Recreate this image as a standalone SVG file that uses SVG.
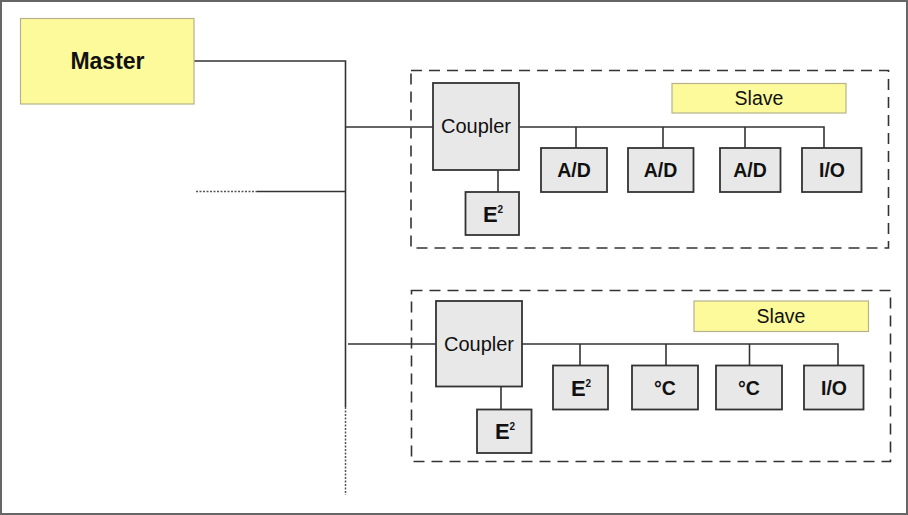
<svg xmlns="http://www.w3.org/2000/svg" width="908" height="515" viewBox="0 0 908 515">
<style>
.ln{stroke:#333;stroke-width:1.6;fill:none}
.dot{stroke:#555;stroke-width:1.5;fill:none;stroke-dasharray:2 1.5}
.dash{stroke:#333;stroke-width:1.6;fill:none;stroke-dasharray:11 7}
.box{fill:#e8e8e8;stroke:#333;stroke-width:1.8}
.yel{fill:#fdfa9c;stroke:#b5b28a;stroke-width:1.2}
.t{font-family:"Liberation Sans",Arial,sans-serif;fill:#111;text-anchor:middle}
.b{font-weight:bold;font-size:19.5px}
.c{font-size:20px}
.s{font-size:19.5px}
.e{font-weight:bold;font-size:22px}
.sup{font-size:10px}
</style>
<rect x="1" y="1" width="906" height="513" fill="#fff" stroke="#666" stroke-width="2"/>
<g id="connectors">
<polyline class="ln" points="194,61 345.5,61 345.5,407"/>
<line class="dot" x1="345.5" y1="407" x2="345.5" y2="495"/>
<line class="ln" x1="345.5" y1="127" x2="433" y2="127"/>
<line class="ln" x1="257" y1="191.5" x2="345.5" y2="191.5"/>
<line class="dot" x1="196" y1="191.5" x2="257" y2="191.5"/>
<line class="ln" x1="348" y1="344" x2="436" y2="344"/>
<polyline class="ln" points="519,127 824,127 824,148"/>
<line class="ln" x1="576" y1="127" x2="576" y2="148"/>
<line class="ln" x1="663" y1="127" x2="663" y2="148"/>
<line class="ln" x1="745" y1="127" x2="745" y2="148"/>
<line class="ln" x1="498" y1="170" x2="498" y2="192"/>
<polyline class="ln" points="522,344 838,344 838,366"/>
<line class="ln" x1="580" y1="344" x2="580" y2="366"/>
<line class="ln" x1="666" y1="344" x2="666" y2="366"/>
<line class="ln" x1="749.5" y1="344" x2="749.5" y2="366"/>
<line class="ln" x1="501" y1="386" x2="501" y2="409"/>
</g>
<g id="master"><rect class="yel" x="20.5" y="18.5" width="173.5" height="85.5"/><text class="t" x="107.5" y="69" font-size="23" font-weight="bold">Master</text></g>
<g id="group1"><rect class="dash" x="411" y="70.5" width="477.5" height="177.5"/></g>
<g id="group2"><rect class="dash" x="411.5" y="290.5" width="479" height="171"/></g>
<g id="coupler1"><rect class="box" x="433" y="83" width="86" height="87"/><text class="t c" x="476" y="133">Coupler</text></g>
<g id="slave1"><rect class="yel" x="672" y="83.5" width="174" height="29.5"/><text class="t s" x="759" y="104.5">Slave</text></g>
<g id="ad1"><rect class="box" x="541" y="148" width="66" height="44"/><text class="t b" x="574" y="177">A/D</text></g>
<g id="ad2"><rect class="box" x="628" y="148" width="65.5" height="44"/><text class="t b" x="660.5" y="177">A/D</text></g>
<g id="ad3"><rect class="box" x="720" y="148" width="60.5" height="44"/><text class="t b" x="750" y="177">A/D</text></g>
<g id="io1"><rect class="box" x="802" y="148" width="59.5" height="44"/><text class="t b" x="832" y="177">I/O</text></g>
<g id="e2a"><rect class="box" x="465.5" y="192" width="53.5" height="43"/><text class="t e" x="493" y="221.5">E<tspan class="sup" dy="-9">2</tspan></text></g>
<g id="coupler2"><rect class="box" x="436" y="301" width="86" height="85.5"/><text class="t c" x="479" y="350.5">Coupler</text></g>
<g id="slave2"><rect class="yel" x="694" y="301" width="174.5" height="30.5"/><text class="t s" x="781" y="322.5">Slave</text></g>
<g id="e2b"><rect class="box" x="553" y="365.5" width="55" height="44"/><text class="t e" x="581" y="395.5">E<tspan class="sup" dy="-9">2</tspan></text></g>
<g id="c1"><rect class="box" x="632" y="365.5" width="66" height="44"/><text class="t b" x="665" y="394.5">°C</text></g>
<g id="c2"><rect class="box" x="716" y="365.5" width="66" height="44"/><text class="t b" x="749" y="394.5">°C</text></g>
<g id="io2"><rect class="box" x="804" y="365.5" width="59.5" height="44"/><text class="t b" x="834" y="394.5">I/O</text></g>
<g id="e2c"><rect class="box" x="477" y="409.5" width="54.5" height="43.5"/><text class="t e" x="505" y="439">E<tspan class="sup" dy="-9">2</tspan></text></g>
</svg>
